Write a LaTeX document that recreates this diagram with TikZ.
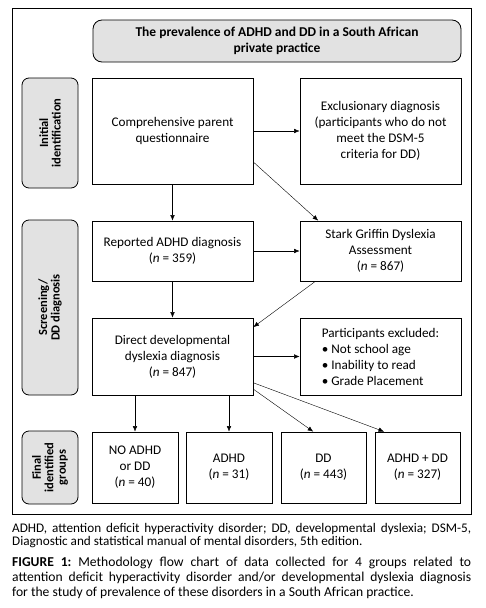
\documentclass[tikz,border=0pt]{standalone}
\usepackage{fontspec}
\setmainfont{Carlito}
\usetikzlibrary{arrows.meta}
\definecolor{sidegray}{RGB}{226,226,226}
\frenchspacing

\begin{document}
\begin{tikzpicture}
[
  x=1pt, y=-1pt,
  >={Latex[length=5.5pt,width=4.5pt]},
  box/.style={draw, thick, align=center, inner sep=2pt, font=\fontsize{13.2}{16}\selectfont},
  sidebox/.style={draw, thick, fill=sidegray, rounded corners=7pt, rotate=90, align=center,
    minimum height=56pt, font=\fontsize{12.5}{12.5}\selectfont\bfseries},
  note/.style={anchor=north west, text width=459pt, align=justify, inner sep=0pt}
]
\useasboundingbox (0,0) rectangle (486,608);

% frame
\draw[thick] (12,8) rectangle (471,514);

\node[box, fill=sidegray, rounded corners=9pt, minimum width=368pt, minimum height=42pt,
  font=\fontsize{13.5}{15.5}\selectfont\bfseries] (title) at (277,41)
  {The prevalence of ADHD and DD in a South African\\private practice};

% stage labels
\node[sidebox, minimum width=110pt] (initial) at (50,133) {Initial\\identification};
\node[sidebox, minimum width=175pt] (screen) at (50,307.5) {Screening/\\DD diagnosis};
\node[sidebox, minimum width=73pt] (final) at (50,467.5) {Final\\identified\\groups};

% initial identification
\node[box, minimum width=161pt, minimum height=106pt] (comp) at (172.5,131)
  {Comprehensive parent\\questionnaire};
\node[box, minimum width=161pt, minimum height=106pt] (excl) at (380.5,131)
  {Exclusionary diagnosis\\(participants who do not\\meet the DSM-5\\criteria for DD)};

% screening
\node[box, minimum width=161pt, minimum height=60pt] (rep) at (172.5,251)
  {Reported ADHD diagnosis\\(\textit{n} = 359)};
\node[box, minimum width=161pt, minimum height=60pt] (stark) at (380.5,251)
  {Stark Griffin Dyslexia\\Assessment\\(\textit{n} = 867)};
\node[box, minimum width=161pt, minimum height=77pt] (direct) at (172.5,356.5)
  {Direct developmental\\dyslexia diagnosis\\(\textit{n} = 847)};
\node[box, minimum width=161pt, minimum height=77pt, align=left] (out) at (380.5,356.5)
  {Participants excluded:\\\textbullet\ Not school age\\\textbullet\ Inability to read\\\textbullet\ Grade Placement};

% final groups
\node[box, minimum width=86pt, minimum height=71pt] (none) at (135,467.5)
  {NO ADHD\\or DD\\(\textit{n} = 40)};
\node[box, minimum width=86pt, minimum height=71pt] (adhd) at (229,467.5)
  {ADHD\\(\textit{n} = 31)};
\node[box, minimum width=85pt, minimum height=71pt] (dd) at (323.5,467.5)
  {DD\\(\textit{n} = 443)};
\node[box, minimum width=85pt, minimum height=71pt] (both) at (417.5,467.5)
  {ADHD + DD\\(\textit{n} = 327)};

\path[->]
  (comp) edge (excl)
  (comp) edge (rep)
  (comp.-21.7) edge (stark.154)
  (rep) edge (stark)
  (rep) edge (direct)
  (stark.205) edge (direct.20)
  (direct) edge (out)
  (none.north |- direct.south) edge (none)
  (adhd.north |- direct.south) edge (adhd)
  (direct.-22.6) edge (dd.106.5)
  (direct.-18.2) edge (both.133.3);

% notes
\node[note, font=\fontsize{13.2}{13.5}\selectfont] (abbr) at (12,523)
  {ADHD, attention deficit hyperactivity disorder; DD, developmental dyslexia; DSM-5,\linebreak
  Diagnostic and statistical manual of mental disorders, 5th edition.};
\node[note, font=\fontsize{13.6}{15}\selectfont] (caption) at (12,556.5)
  {\textbf{FIGURE 1:} Methodology flow chart of data collected for 4 groups related to\linebreak
  attention deficit hyperactivity disorder and/or developmental dyslexia diagnosis\linebreak
  for the study of prevalence of these disorders in a South African practice.};
\end{tikzpicture}
\end{document}
